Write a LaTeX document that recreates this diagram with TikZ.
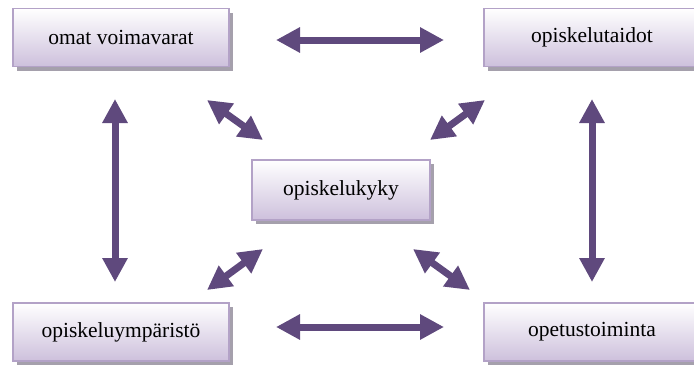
\documentclass[tikz,border=0pt]{standalone}
\usepackage{fontspec}
\setmainfont{Liberation Serif}
\newfontfamily\boxfont{Liberation Serif}
\usetikzlibrary{arrows.meta,shadows}
\definecolor{boxborder}{RGB}{179,162,199}
\definecolor{boxbottom}{RGB}{205,192,220}
\definecolor{arrowcol}{RGB}{95,73,125}
\definecolor{shadowcol}{RGB}{165,160,172}
\tikzset{
  box/.style={draw=boxborder, line width=1.5pt, top color=white, bottom color=boxbottom,
    minimum height=58pt, inner sep=0pt, font=\boxfont\fontsize{21.5}{25}\selectfont,
    drop shadow={shadow xshift=4pt, shadow yshift=-4pt, fill=shadowcol, opacity=1}},
  dbl/.style={draw=arrowcol, line width=7pt,
    {Triangle[width=24pt,length=24pt]}-{Triangle[width=24pt,length=24pt]}}
}
\begin{document}
\begin{tikzpicture}[x=1pt,y=-1pt]
\useasboundingbox (0,0) rectangle (694,367);
\node[box, minimum width=216pt] (tl) at (121,37.5) {omat voimavarat};
\node[box, minimum width=216pt] (tr) at (592,37.5) {opiskelutaidot};
\node[box, minimum width=216pt] (bl) at (121,332) {opiskeluympäristö};
\node[box, minimum width=216pt] (br) at (592,332) {opetustoiminta};
\node[box, minimum width=178pt, minimum height=60pt] (c) at (341,190) {opiskelukyky};
\coordinate (h1a) at (276,40); \coordinate (h1b) at (444,40);
\coordinate (h2a) at (276,327); \coordinate (h2b) at (444,327);
\coordinate (v1a) at (115,99); \coordinate (v1b) at (115,282);
\coordinate (v2a) at (592,99); \coordinate (v2b) at (592,282);
\coordinate (d1a) at (207,100); \coordinate (d1b) at (263,140);
\coordinate (d2a) at (485,100); \coordinate (d2b) at (430,140);
\coordinate (d3a) at (207,290); \coordinate (d3b) at (263,249);
\coordinate (d4a) at (413,249); \coordinate (d4b) at (470,290);
\draw[dbl] (h1a) -- (h1b);
\draw[dbl] (h2a) -- (h2b);
\draw[dbl] (v1a) -- (v1b);
\draw[dbl] (v2a) -- (v2b);
\draw[dbl] (d1a) -- (d1b);
\draw[dbl] (d2a) -- (d2b);
\draw[dbl] (d3a) -- (d3b);
\draw[dbl] (d4a) -- (d4b);
\end{tikzpicture}
\end{document}
